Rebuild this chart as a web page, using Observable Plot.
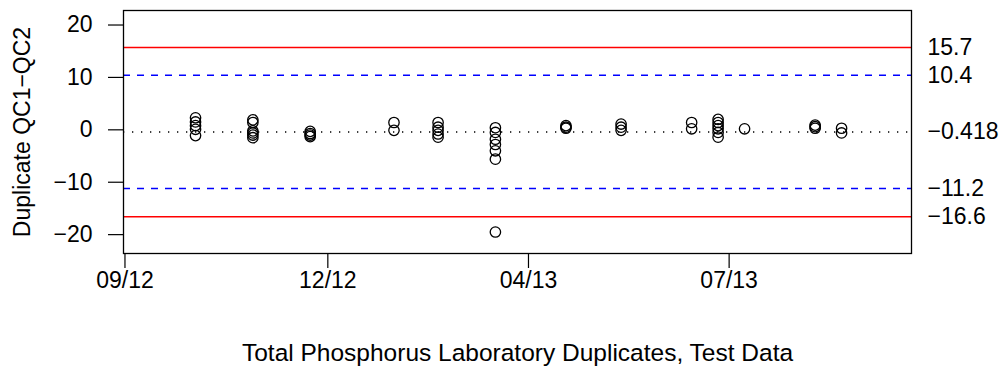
<!DOCTYPE html>
<html>
<head>
<meta charset="utf-8">
<script src="https://cdn.jsdelivr.net/npm/d3@7"></script>
<script src="https://cdn.jsdelivr.net/npm/@observablehq/plot@0.6"></script>
<style>
  html, body { margin: 0; padding: 0; background: #fff; }
</style>
</head>
<body>
<div id="chart"></div>
<script>
// Sample dates (one per duplicate pair) and QC1 - QC2 differences
const sampleDates = [
  "2012-11-01","2012-11-01","2012-11-01","2012-11-01","2012-11-01",
  "2012-11-27","2012-11-27","2012-11-27","2012-11-27","2012-11-27","2012-11-27",
  "2012-12-23","2012-12-23","2012-12-23","2012-12-23",
  "2013-01-30","2013-01-30",
  "2013-02-19","2013-02-19","2013-02-19","2013-02-19","2013-02-19",
  "2013-03-17","2013-03-17","2013-03-17","2013-03-17","2013-03-17","2013-03-17","2013-03-17",
  "2013-04-18","2013-04-18","2013-04-18",
  "2013-05-13","2013-05-13","2013-05-13",
  "2013-06-14","2013-06-14",
  "2013-06-26","2013-06-26","2013-06-26","2013-06-26","2013-06-26","2013-06-26",
  "2013-07-08",
  "2013-08-09","2013-08-09","2013-08-09",
  "2013-08-21","2013-08-21"
];
const differences = [
  2.3, 1.5, 0.8, 0.1, -1.1,
  1.9, 1.4, -0.2, -0.6, -1.0, -1.5,
  -0.3, -0.7, -1.0, -1.3,
  1.4, -0.1,
  1.4, 0.5, -0.1, -0.8, -1.4,
  0.4, -0.5, -1.8, -2.8, -4.0, -5.6, -19.5,
  0.8, 0.5, 0.3,
  1.1, 0.5, -0.1,
  1.4, 0.2,
  2.0, 1.4, 0.8, 0.2, -0.5, -1.4,
  0.2,
  0.9, 0.6, 0.3,
  0.3, -0.6
];

// Control limits
const controlLimits = [15.7, -16.6];       // red solid
const warningLimits = [10.4, -11.2];       // blue dashed
const centerLine = [-0.418];               // black dotted
const limitValues = [15.7, 10.4, -0.418, -11.2, -16.6];
const limitLabels = ["15.7", "10.4", "\u22120.418", "\u221211.2", "\u221216.6"];

// Axes
const xTickDates = ["2012-09-30", "2012-12-31", "2013-04-01", "2013-07-01"];
const yTicks = [-20, -10, 0, 10, 20];
const xDomain = ["2012-09-29T08:00Z", "2013-09-21T17:00Z"];
const yDomain = [-23.6, 22.77];
const yTitle = "Duplicate QC1\u2212QC2";
const xTitle = "Total Phosphorus Laboratory Duplicates, Test Data";

const points = sampleDates.map((d, i) => ({date: new Date(d), diff: differences[i]}));

const chart = Plot.plot({
  width: 1004,
  height: 374,
  marginLeft: 123,
  marginRight: 93,
  marginTop: 10,
  marginBottom: 121,
  style: {fontFamily: "'Liberation Sans', Arial, Helvetica, sans-serif", fontSize: "23px", color: "black", background: "white"},
  x: {type: "utc", domain: xDomain.map(d => new Date(d))},
  y: {domain: yDomain},
  marks: [
    Plot.axisX({ticks: xTickDates.map(d => new Date(d)), tickFormat: d3.utcFormat("%m/%y"), tickSize: 15, tickPadding: 3, label: null, stroke: "black", strokeWidth: 1.2}),
    Plot.axisY({ticks: yTicks, tickSize: 15, tickPadding: 16, label: null, stroke: "black", strokeWidth: 1.2}),
    Plot.ruleY(controlLimits, {stroke: "#ff0000", strokeWidth: 1.5}),
    Plot.ruleY(warningLimits, {stroke: "#0000ff", strokeWidth: 1.5, strokeDasharray: "7,7"}),
    Plot.ruleY(centerLine, {stroke: "black", strokeWidth: 1.3, strokeDasharray: "1.3,7.7"}),
    Plot.dot(points, {x: "date", y: "diff", r: 5.2, stroke: "black", strokeWidth: 1.3, fill: "none"}),
    Plot.frame({stroke: "black", strokeWidth: 1.3}),
    Plot.text(limitValues, {y: d => d, text: (d, i) => limitLabels[i], frameAnchor: "right", dx: 16, textAnchor: "start", fill: "black"}),
    Plot.text([yTitle], {frameAnchor: "left", dx: -101, rotate: -90, textAnchor: "middle", fill: "black"}),
    Plot.text([xTitle], {frameAnchor: "bottom", dy: 107, textAnchor: "middle", fontSize: 24.5, fill: "black"})
  ]
});
document.getElementById("chart").appendChild(chart);
</script>
</body>
</html>
